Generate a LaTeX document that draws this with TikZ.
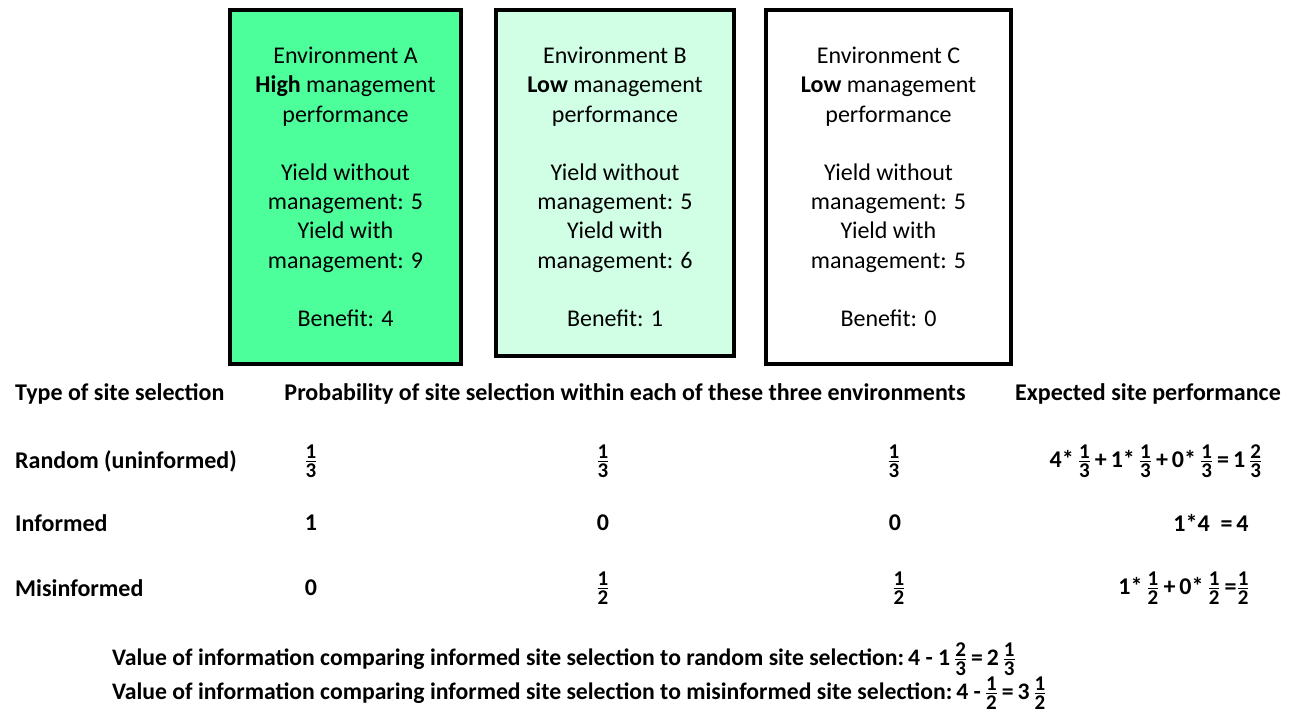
\documentclass[tikz,border=0pt]{standalone}
\usepackage{amsmath}
\usepackage{fontspec}
\setmainfont{Carlito}
\definecolor{highgreen}{RGB}{77,255,155}
\definecolor{lowgreen}{RGB}{208,255,230}
\newcommand\fracbox[2]{\ensuremath{\genfrac{}{}{1.3pt}{1}{\hbox{\fontsize{21}{21}\selectfont\bfseries #1}}{\hbox{\fontsize{21}{21}\selectfont\bfseries #2}}}}

\begin{document}
\begin{tikzpicture}[
  x=1pt, y=-1pt,
  envbox/.style={draw, line width=4pt, inner sep=0pt},
  envtext/.style={inner sep=0pt, align=center, font=\fontsize{24}{29.2}\selectfont},
  head/.style={inner sep=0pt, font=\fontsize{24}{29}\selectfont\bfseries},
  cell/.style={inner sep=0pt, font=\fontsize{24}{29}\selectfont\bfseries},
  note/.style={inner sep=0pt, anchor=west, font=\fontsize{23.7}{29}\selectfont\bfseries}
]
\useasboundingbox (0,0) rectangle (1296,721);
% the three environments
\node[envbox, fill=highgreen, minimum width=231pt, minimum height=354pt] (envA) at (345.5,187) {};
\node[envbox, fill=lowgreen, minimum width=238pt, minimum height=346pt] (envB) at (615,183) {};
\node[envbox, minimum width=245pt, minimum height=354pt] (envC) at (888.5,187) {};
\node[envtext] (envAtext) at (envA.center)
  {Environment A\\\textbf{High} management\\performance\\[29.2pt]Yield without\\management: 5\\Yield with\\management: 9\\[29.2pt]Benefit: 4};
\node[envtext] (envBtext) at ([yshift=-4pt]envB.center)
  {Environment B\\\textbf{Low} management\\performance\\[29.2pt]Yield without\\management: 5\\Yield with\\management: 6\\[29.2pt]Benefit: 1};
\node[envtext] (envCtext) at (envC.center)
  {Environment C\\\textbf{Low} management\\performance\\[29.2pt]Yield without\\management: 5\\Yield with\\management: 5\\[29.2pt]Benefit: 0};
% table header
\node[head, anchor=west] (typehead) at (15,394) {Type of site selection};
\node[head] (probhead) at (625,394) {Probability of site selection within each of these three environments};
\node[head] (perfhead) at (1148,394) {Expected site performance};
% rows
\node[cell, anchor=west] (random) at (15,461) {Random (uninformed)};
\node[cell, anchor=west] (informed) at (15,523) {Informed};
\node[cell, anchor=west] (misinformed) at (15,588) {Misinformed};
\node[cell] (randA) at (311,461) {\fracbox{1}{3}};
\node[cell] (randB) at (603,461) {\fracbox{1}{3}};
\node[cell] (randC) at (894,461) {\fracbox{1}{3}};
\node[cell] (infA) at (311,523) {1};
\node[cell] (infB) at (603,523) {0};
\node[cell] (infC) at (895,523) {0};
\node[cell] (misA) at (311,588) {0};
\node[cell] (misB) at (603,588) {\fracbox{1}{2}};
\node[cell] (misC) at (899,588) {\fracbox{1}{2}};
\node[cell] (randperf) at (1156,461) {4*\,\fracbox{1}{3}\,+\,1*\,\fracbox{1}{3}\,+\,0*\,\fracbox{1}{3}\,=\,1\,\fracbox{2}{3}};
\node[cell] (infperf) at (1211,523) {1*4~~=\,4};
\node[cell] (misperf) at (1184,588) {1*\,\fracbox{1}{2}\,+\,0*\,\fracbox{1}{2}\,=\fracbox{1}{2}};
% value of information
\node[note] (voirandom) at (112,659) {Value of information comparing informed site selection to random site selection:\,4 - 1\,\fracbox{2}{3}\,=\,2\,\fracbox{1}{3}};
\node[note] (voimis) at (112,693) {Value of information comparing informed site selection to misinformed site selection:\,4 -\,\fracbox{1}{2}\,=\,3\,\fracbox{1}{2}};
\end{tikzpicture}
\end{document}
